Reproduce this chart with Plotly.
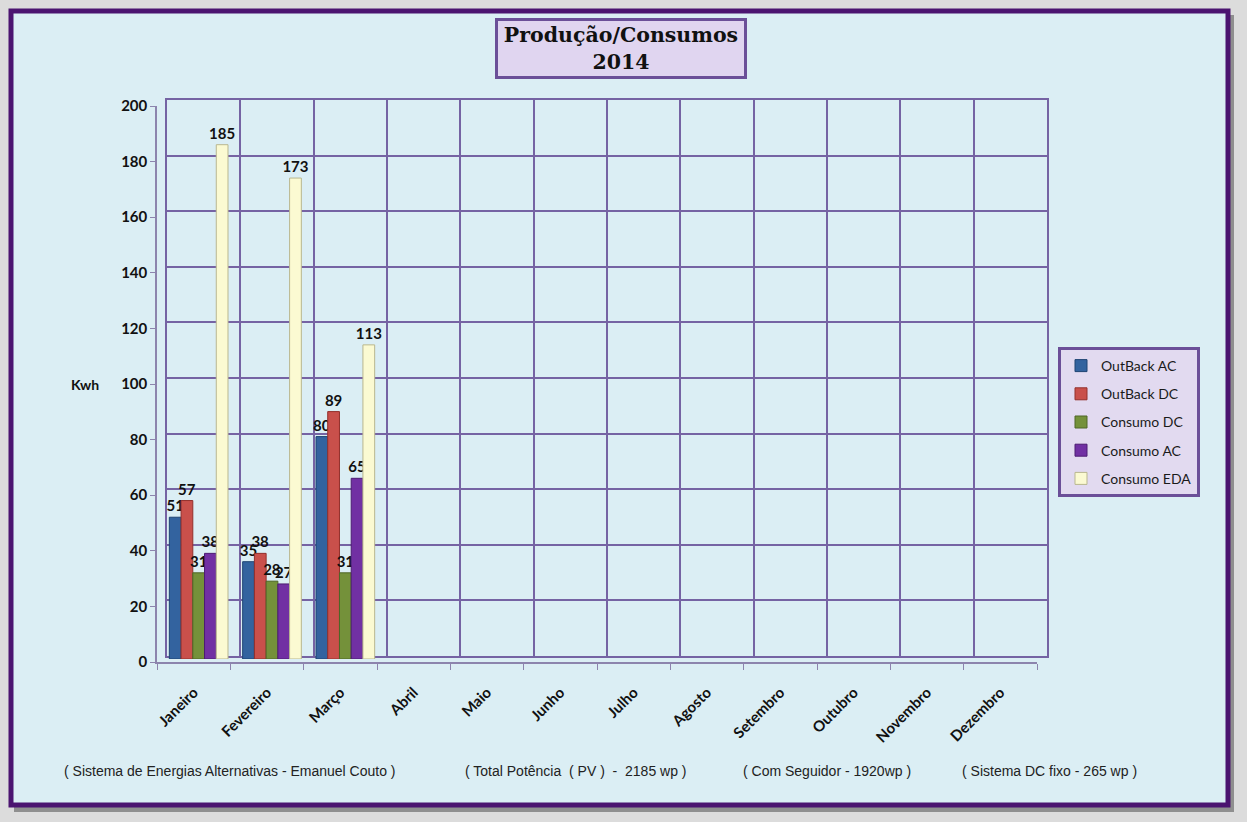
import plotly.graph_objects as go

W, H = 1247, 822

months = ["Janeiro", "Fevereiro", "Março", "Abril", "Maio", "Junho",
          "Julho", "Agosto", "Setembro", "Outubro", "Novembro", "Dezembro"]

outback_ac = [51, 35, 80, None, None, None, None, None, None, None, None, None]
outback_dc = [57, 38, 89, None, None, None, None, None, None, None, None, None]
consumo_dc = [31, 28, 31, None, None, None, None, None, None, None, None, None]
consumo_ac = [38, 27, 65, None, None, None, None, None, None, None, None, None]
consumo_eda = [185, 173, 113, None, None, None, None, None, None, None, None, None]

y_ticks = [0, 20, 40, 60, 80, 100, 120, 140, 160, 180, 200]

series = [
    ("OutBack AC", outback_ac, "#33639f", "#1f4573"),
    ("OutBack DC", outback_dc, "#c9504b", "#93302c"),
    ("Consumo DC", consumo_dc, "#74913a", "#4e6626"),
    ("Consumo AC", consumo_ac, "#7130a3", "#4d1c73"),
    ("Consumo EDA", consumo_eda, "#fbfad2", "#b9b78f"),
]

def px_x(p):
    return p / W

def px_y(p):
    return 1 - p / H

fig = go.Figure()

# invisible helper so the back-wall grid axes are drawn (drawn first, behind)
fig.add_trace(go.Scatter(
    x=[0], y=[0], mode="markers",
    marker=dict(opacity=0), hoverinfo="skip", showlegend=False,
    xaxis="x", yaxis="y",
))
# invisible helper so the front category axis carries the month labels
fig.add_trace(go.Scatter(
    x=months, y=[0] * len(months), mode="markers",
    marker=dict(opacity=0), hoverinfo="skip", showlegend=False,
    xaxis="x2", yaxis="y2",
))

for i, (name, vals, col, edge) in enumerate(series):
    fig.add_trace(go.Bar(
        x=months, y=vals, name=name,
        marker=dict(color=col, line=dict(color=edge, width=1)),
        text=[("" if v is None else str(v)) for v in vals],
        textposition="outside",
        constraintext="none",
        cliponaxis=False,
        textfont=dict(family="Lato", size=15, color="#111111", weight="bold"),
        xaxis="x3", yaxis="y3",
        legendgroup=f"g{i}",
    ))

grid_col = "#7563a3"
line_col = "#8c84ad"
tick_font = dict(family="Lato", size=15, color="#111111", weight="bold")

fig.update_layout(
    # back wall (grid)
    xaxis=dict(domain=[px_x(167), px_x(1047)], range=[0, 12],
               tick0=0, dtick=1, anchor="y", automargin=False,
               showgrid=True, gridcolor=grid_col, gridwidth=1.5,
               showticklabels=False, ticks="", zeroline=False,
               showline=True, mirror=True, linecolor=grid_col, linewidth=1.5),
    yaxis=dict(domain=[px_y(656), px_y(100)], range=[0, 200],
               tick0=0, dtick=20, anchor="x", automargin=False,
               showgrid=True, gridcolor=grid_col, gridwidth=1.5,
               showticklabels=False, ticks="", zeroline=False,
               showline=True, mirror=True, linecolor=grid_col, linewidth=1.5),
    # front plane (labels)
    xaxis2=dict(domain=[px_x(157), px_x(1037)], type="category",
                categoryorder="array", categoryarray=months,
                range=[-0.5, 11.5], anchor="y2", automargin=False,
                showgrid=False, zeroline=False,
                showline=True, linecolor=line_col, linewidth=1.5,
                ticks="outside", tickson="boundaries", ticklen=6,
                tickcolor=line_col, tickwidth=1,
                tickangle=-45, ticklabelstandoff=14,
                tickfont=tick_font),
    yaxis2=dict(domain=[px_y(662), px_y(106)], range=[0, 200],
                tickvals=y_ticks, anchor="x2", automargin=False,
                showgrid=False, zeroline=False,
                showline=True, linecolor=line_col, linewidth=1.5,
                ticks="outside", ticklen=5, tickcolor=line_col,
                tickfont=tick_font),
    # mid plane (bars), drawn on top
    xaxis3=dict(domain=[px_x(162), px_x(1042)], type="category",
                categoryorder="array", categoryarray=months,
                range=[-0.5, 11.5], visible=False, anchor="y3", automargin=False),
    yaxis3=dict(domain=[px_y(659), px_y(103)], range=[0, 200],
                visible=False, anchor="x3", automargin=False),
)

foot_font = dict(family="Liberation Sans Narrow, Arial Narrow, Liberation Sans",
                 size=14, color="#222222")

fig.update_layout(
    width=W, height=H,
    autosize=False,
    margin=dict(l=0, r=0, t=0, b=0, pad=0, autoexpand=False),
    paper_bgcolor="#dcdcdc",
    plot_bgcolor="rgba(0,0,0,0)",
    barmode="group", bargap=0.2, bargroupgap=0.0,
    showlegend=True,
    legend=dict(
        x=px_x(1058), y=px_y(347), xanchor="left", yanchor="top",
        bgcolor="#e2daf0", bordercolor="#6b4f98", borderwidth=3,
        font=dict(family="Lato", size=14, color="#1a1a1a"),
        tracegroupgap=7, itemwidth=30,
    ),
    shapes=[
        # drop shadow
        dict(type="rect", xref="paper", yref="paper",
             x0=px_x(14), x1=px_x(1234), y0=px_y(812), y1=px_y(15),
             fillcolor="#8f8f8f", line=dict(width=0), layer="below"),
        # frame
        dict(type="rect", xref="paper", yref="paper",
             x0=px_x(11), x1=px_x(1228), y0=px_y(805), y1=px_y(11),
             fillcolor="#dbeef4", line=dict(color="#4b1470", width=5),
             layer="below"),
    ],
    annotations=[
        dict(text="<b>Produção/Consumos</b><br><b>2014</b>",
             xref="paper", yref="paper", x=px_x(621), y=px_y(48),
             xanchor="center", yanchor="middle", showarrow=False,
             font=dict(family="DejaVu Serif", size=20.5, color="#111111"),
             bgcolor="#e0d5f0", bordercolor="#6b4f98", borderwidth=3,
             borderpad=2, width=242, height=51),
        dict(text="<b>Kwh</b>", xref="paper", yref="paper",
             x=px_x(85), y=px_y(385), xanchor="center", yanchor="middle",
             showarrow=False,
             font=dict(family="Lato", size=14, color="#111111")),
        dict(text="( Sistema de Energias Alternativas - Emanuel Couto )",
             xref="paper", yref="paper", x=px_x(62), y=px_y(771),
             xanchor="left", yanchor="middle", showarrow=False, font=foot_font),
        dict(text="( Total Potência  ( PV )  -  2185 wp )",
             xref="paper", yref="paper", x=px_x(463), y=px_y(771),
             xanchor="left", yanchor="middle", showarrow=False, font=foot_font),
        dict(text="( Com Seguidor - 1920wp )",
             xref="paper", yref="paper", x=px_x(741), y=px_y(771),
             xanchor="left", yanchor="middle", showarrow=False, font=foot_font),
        dict(text="( Sistema DC fixo - 265 wp )",
             xref="paper", yref="paper", x=px_x(960), y=px_y(771),
             xanchor="left", yanchor="middle", showarrow=False, font=foot_font),
    ],
)

fig.write_html("out.html")
